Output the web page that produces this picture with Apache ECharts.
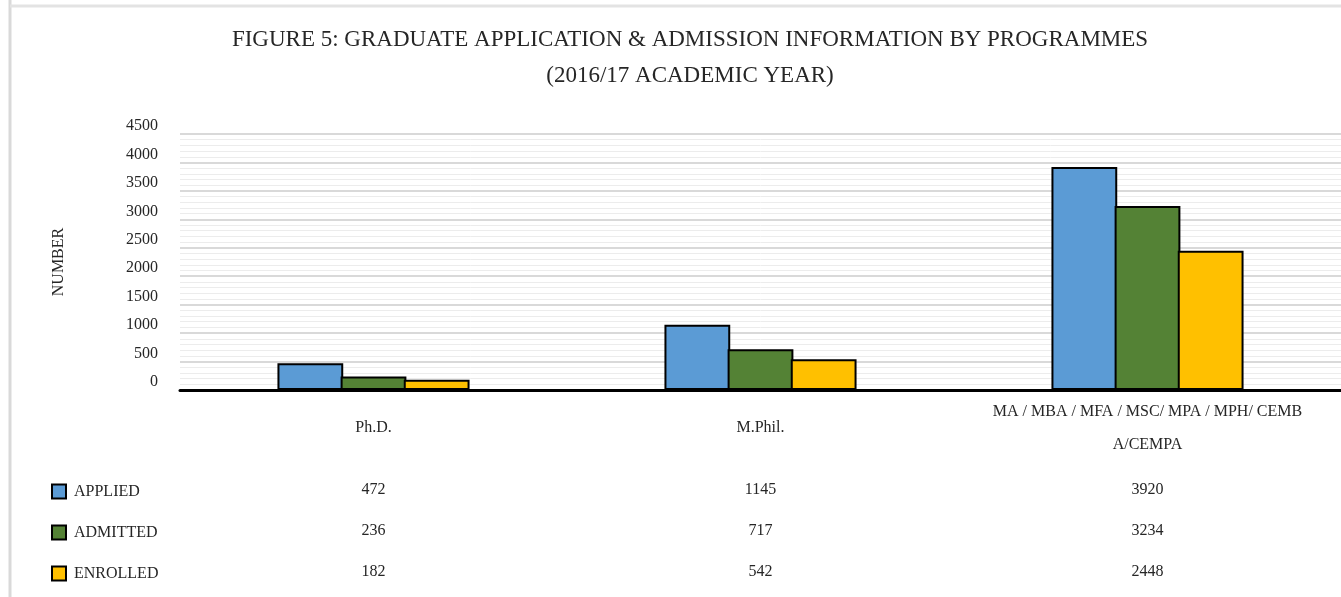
<!DOCTYPE html>
<html>
<head>
<meta charset="utf-8">
<script src="https://cdn.jsdelivr.net/npm/echarts@6/dist/echarts.min.js"></script>
<style>
  html, body { margin: 0; padding: 0; background: #fff; }
  #chart { width: 1341px; height: 597px; }
</style>
</head>
<body>
<div id="chart"></div>
<script>
// Graduate applications by programme, 2016/17

const programmes = ['Ph.D.', 'M.Phil.', 'MA / MBA / MFA / MSC/ MPA / MPH/ CEMB\nA/CEMPA'];
const seriesNames = ['APPLIED', 'ADMITTED', 'ENROLLED'];
const applied = [472, 1145, 3920];
const admitted = [236, 717, 3234];
const enrolled = [182, 542, 2448];
const yTicks = [0, 500, 1000, 1500, 2000, 2500, 3000, 3500, 4000, 4500];

const colors = ['#5B9BD5', '#548235', '#FFC000'];
const values = [applied, admitted, enrolled];
const font = '"Liberation Serif", "DejaVu Serif", serif';
const ink = '#262626';

const chart = echarts.init(document.getElementById('chart'));

// 主图 + 下方数据表（每行一个隐藏网格，只显示轴标签）
const grids = [{ left: 180, right: 0, top: 134, height: 256 }];
const xAxes = [{
  type: 'category',
  data: programmes,
  gridIndex: 0,
  axisLine: { lineStyle: { color: '#000', width: 3 } },
  axisTick: { show: false },
  axisLabel: {
    color: ink, fontFamily: font, fontSize: 16, interval: 0,
    margin: 38, verticalAlign: 'middle', lineHeight: 33,
  },
}];
const yAxes = [{
  type: 'value',
  gridIndex: 0,
  min: yTicks[0],
  max: yTicks[yTicks.length - 1],
  interval: 500,
  name: 'NUMBER',
  nameLocation: 'middle',
  nameRotate: 90,
  nameGap: 113,
  nameTextStyle: { color: ink, fontFamily: font, fontSize: 16 },
  axisLabel: {
    color: ink, fontFamily: font, fontSize: 16, margin: 22,
    verticalAlign: 'bottom',
    formatter: v => String(v),
  },
  splitLine: { lineStyle: { color: '#d9d9d9', width: 2 } },
  minorTick: { show: false, splitNumber: 5 },
  minorSplitLine: { show: true, lineStyle: { color: '#ececec', width: 1 } },
}];

const rowY = [490, 531, 572];
const legends = [];
rowY.forEach((y, i) => {
  grids.push({ left: 180, right: 0, top: y, height: 0 });
  xAxes.push({
    type: 'category',
    gridIndex: i + 1,
    data: values[i].map(String),
    axisLine: { show: false },
    axisTick: { show: false },
    axisLabel: {
      color: ink, fontFamily: font, fontSize: 16, interval: 0,
      margin: 0, verticalAlign: 'middle',
    },
  });
  yAxes.push({ type: 'value', gridIndex: i + 1, show: false });
  // 每行一个图例
  legends.push({
    left: 51,
    top: y - 12,
    padding: 0,
    itemWidth: 14,
    itemHeight: 14,
    itemStyle: { borderColor: '#000', borderWidth: 2 },
    icon: 'rect',
    data: [seriesNames[i]],
    textStyle: { color: ink, fontFamily: font, fontSize: 16, lineHeight: 18, padding: [0, 0, 9, 3] },
  });
});

chart.setOption({
  animation: false,
  color: colors,
  title: {
    text: 'FIGURE 5: GRADUATE APPLICATION & ADMISSION INFORMATION BY PROGRAMMES\n(2016/17 ACADEMIC YEAR)',
    left: 685,
    textAlign: 'center',
    top: 17,
    textStyle: {
      color: ink, fontFamily: font, fontSize: 23, fontWeight: 'normal',
      lineHeight: 36,
    },
  },
  legend: legends,
  grid: grids,
  xAxis: xAxes,
  yAxis: yAxes,
  series: seriesNames.map((name, i) => ({
    name,
    type: 'bar',
    xAxisIndex: 0,
    yAxisIndex: 0,
    data: values[i],
    barWidth: '17%',
    barGap: '-4%',
    itemStyle: { color: colors[i], borderColor: '#000', borderWidth: 2 },
  })),
  graphic: [
    { type: 'line', shape: { x1: 10, y1: 0, x2: 10, y2: 597 }, style: { stroke: '#d9d9d9', lineWidth: 3 } },
    { type: 'line', shape: { x1: 10, y1: 6, x2: 1341, y2: 6 }, style: { stroke: '#e3e3e3', lineWidth: 3 } },
  ],
});
</script>
</body>
</html>
